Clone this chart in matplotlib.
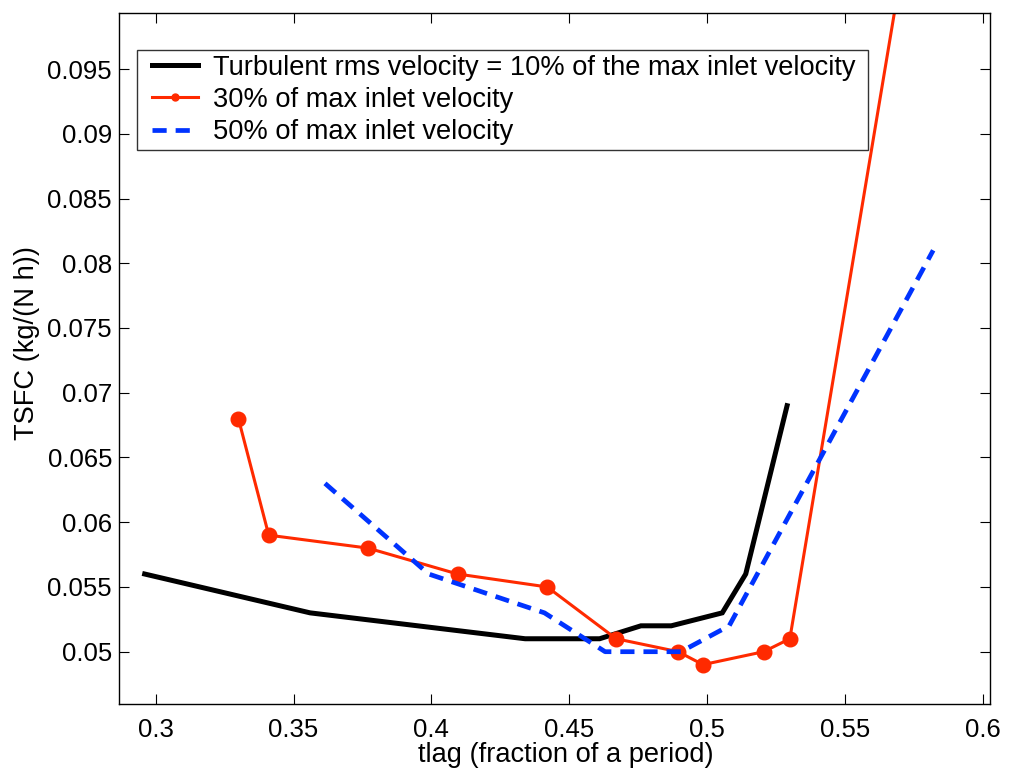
import matplotlib
matplotlib.use("Agg")
import matplotlib.pyplot as plt
from matplotlib.legend_handler import HandlerLine2D

plt.rcParams['font.family'] = ['Liberation Sans', 'DejaVu Sans']

# Turbulent rms velocity = 10% of max inlet velocity
tlag_10 = [0.296, 0.356, 0.434, 0.461, 0.476, 0.487, 0.5055, 0.514, 0.529]
tsfc_10 = [0.056, 0.053, 0.051, 0.051, 0.052, 0.052, 0.053, 0.056, 0.069]

# 30% of max inlet velocity
tlag_30 = [0.330, 0.341, 0.377, 0.4095, 0.442, 0.467, 0.4895, 0.4985, 0.5205, 0.530, 0.570]
tsfc_30 = [0.068, 0.059, 0.058, 0.056, 0.055, 0.051, 0.050, 0.049, 0.050, 0.051, 0.102]

# 50% of max inlet velocity
tlag_50 = [0.3614, 0.399, 0.441, 0.463, 0.4905, 0.508, 0.582]
tsfc_50 = [0.063, 0.056, 0.053, 0.050, 0.050, 0.052, 0.081]

xticks = [0.3, 0.35, 0.4, 0.45, 0.5, 0.55, 0.6]
xtick_labels = ['0.3', '0.35', '0.4', '0.45', '0.5', '0.55', '0.6']
yticks = [0.05, 0.055, 0.06, 0.065, 0.07, 0.075, 0.08, 0.085, 0.09, 0.095]
ytick_labels = ['0.05', '0.055', '0.06', '0.065', '0.07', '0.075', '0.08', '0.085', '0.09', '0.095']

legend_labels = ['Turbulent rms velocity = 10% of the max inlet velocity',
                 '30% of max inlet velocity',
                 '50% of max inlet velocity']


class ShiftedLineHandler(HandlerLine2D):
    """Legend line drawn a few points to the right, with a small marker."""

    def __init__(self, shift=7.2, marker_size=5, **kw):
        super().__init__(**kw)
        self.shift = shift
        self.marker_size = marker_size

    def create_artists(self, legend, orig_handle, xdescent, ydescent,
                       width, height, fontsize, trans):
        arts = super().create_artists(legend, orig_handle,
                                      xdescent - self.shift, ydescent,
                                      width, height, fontsize, trans)
        for a in arts:
            if a.get_marker() not in (None, 'None', '', ' '):
                a.set_markersize(self.marker_size)
        return arts


fig = plt.figure(figsize=(10.13, 7.70), dpi=100)
ax = fig.add_axes([0.1175, 0.0857, 0.8598, 0.8978])

red = '#ff2a00'
blue = '#0033ff'

l1, = ax.plot(tlag_10, tsfc_10, color='black', lw=3.6, solid_joinstyle='miter',
              label=legend_labels[0])
l2, = ax.plot(tlag_30, tsfc_30, color=red, lw=2.2, marker='o', markersize=10.5,
              markeredgecolor=red, markerfacecolor=red, label=legend_labels[1])
l3, = ax.plot(tlag_50, tsfc_50, color=blue, lw=3.4, linestyle=(0, (3.0, 1.9)),
              label=legend_labels[2])

ax.set_xlim(0.2867, 0.6026)
ax.set_ylim(0.04596, 0.09935)

ax.set_xticks(xticks)
ax.set_xticklabels(xtick_labels)
ax.set_yticks(yticks)
ax.set_yticklabels(ytick_labels)

ax.tick_params(direction='in', length=7, width=0.8, top=True, right=True,
               labelsize=18.5)
ax.tick_params(axis='x', pad=10)
ax.tick_params(axis='y', pad=5)
for s in ax.spines.values():
    s.set_linewidth(1.0)

ax.set_xlabel('tlag (fraction of a period)', fontsize=19.6)
ax.set_ylabel('TSFC (kg/(N h))', fontsize=19.6)
ax.xaxis.set_label_coords(0.5126, -0.055)
ax.yaxis.set_label_coords(-0.0907, 0.522)

handler = ShiftedLineHandler(shift=7.2, marker_size=5)
# trailing space on the widest entry gives the frame its right-hand margin
leg = ax.legend(handles=[l1, l2, l3],
                labels=[legend_labels[0] + ' ', legend_labels[1], legend_labels[2]],
                loc='upper left', bbox_to_anchor=(0.0203, 0.9465),
                borderaxespad=0, fontsize=19.6, frameon=True, fancybox=False,
                edgecolor='black', handlelength=1.71, handletextpad=0.92,
                borderpad=0.18, labelspacing=0.235,
                handler_map={l1: handler, l2: handler, l3: handler})
leg.get_frame().set_linewidth(1.0)

fig.savefig('out.png', dpi=100)
